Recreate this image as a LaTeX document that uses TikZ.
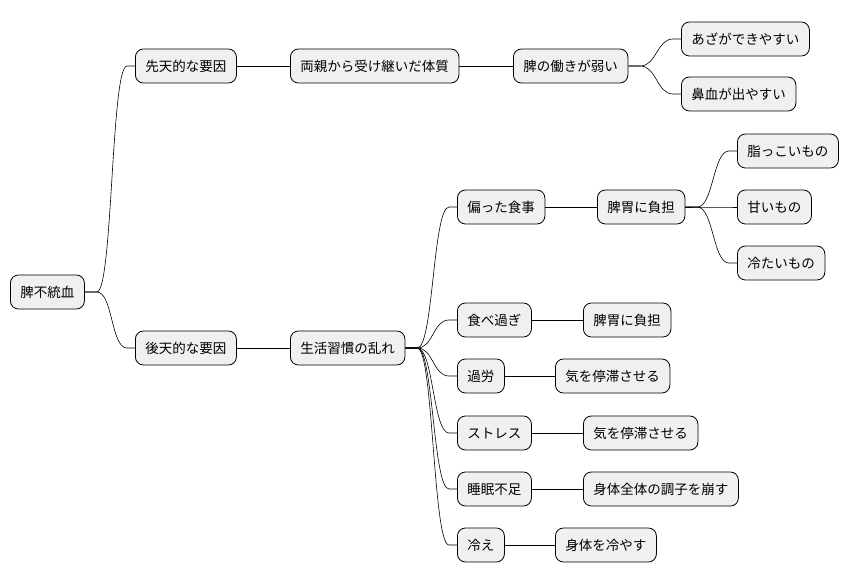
\documentclass[tikz,border=0pt]{standalone}
\usepackage{fontspec}
\setmainfont{Noto Sans CJK JP}
\begin{document}
\begin{tikzpicture}[x=1pt,y=-1pt,
  n/.style={draw=black,line width=0.8pt,fill=black!6,rounded corners=8pt,minimum height=34pt,inner xsep=10pt,anchor=west,font=\fontsize{13.5}{16}\selectfont},
  c/.style={draw=black,line width=0.6pt}]
\useasboundingbox (0,0) rectangle (852,583);
\node[n] (r) at (10,292) {脾不統血};
\node[n] (a) at (135,66) {先天的な要因};
\node[n] (b) at (135,348) {後天的な要因};
\node[n] (a1) at (290,66) {両親から受け継いだ体質};
\node[n] (a2) at (513,66) {脾の働きが弱い};
\node[n] (a3) at (681,39) {あざができやすい};
\node[n] (a4) at (681,94) {鼻血が出やすい};
\node[n] (b1) at (290,348) {生活習慣の乱れ};
\node[n] (c1) at (457,207) {偏った食事};
\node[n] (c2) at (597,207) {脾胃に負担};
\node[n] (c3) at (737,151) {脂っこいもの};
\node[n] (c4) at (737,207) {甘いもの};
\node[n] (c5) at (737,263) {冷たいもの};
\node[n] (d1) at (457,320) {食べ過ぎ};
\node[n] (d2) at (583,320) {脾胃に負担};
\node[n] (e1) at (457,376) {過労};
\node[n] (e2) at (555,376) {気を停滞させる};
\node[n] (f1) at (457,433) {ストレス};
\node[n] (f2) at (583,433) {気を停滞させる};
\node[n] (g1) at (457,489) {睡眠不足};
\node[n] (g2) at (583,489) {身体全体の調子を崩す};
\node[n] (h1) at (457,545) {冷え};
\node[n] (h2) at (555,545) {身体を冷やす};
\foreach \p/\q in {r/a,r/b,a2/a3,a2/a4,c2/c3,c2/c4,c2/c5,b1/c1,b1/d1,b1/e1,b1/f1,b1/g1,b1/h1}
  \draw[c] (\p.east) -- ++(12,0) .. controls +(16,0) and +(-16,0) .. ([xshift=-8pt]\q.west) -- (\q.west);
\foreach \p/\q in {a/a1,a1/a2,b/b1,c1/c2,d1/d2,e1/e2,f1/f2,g1/g2,h1/h2}
  \draw[c] (\p.east) -- (\q.west);
\end{tikzpicture}
\end{document}
